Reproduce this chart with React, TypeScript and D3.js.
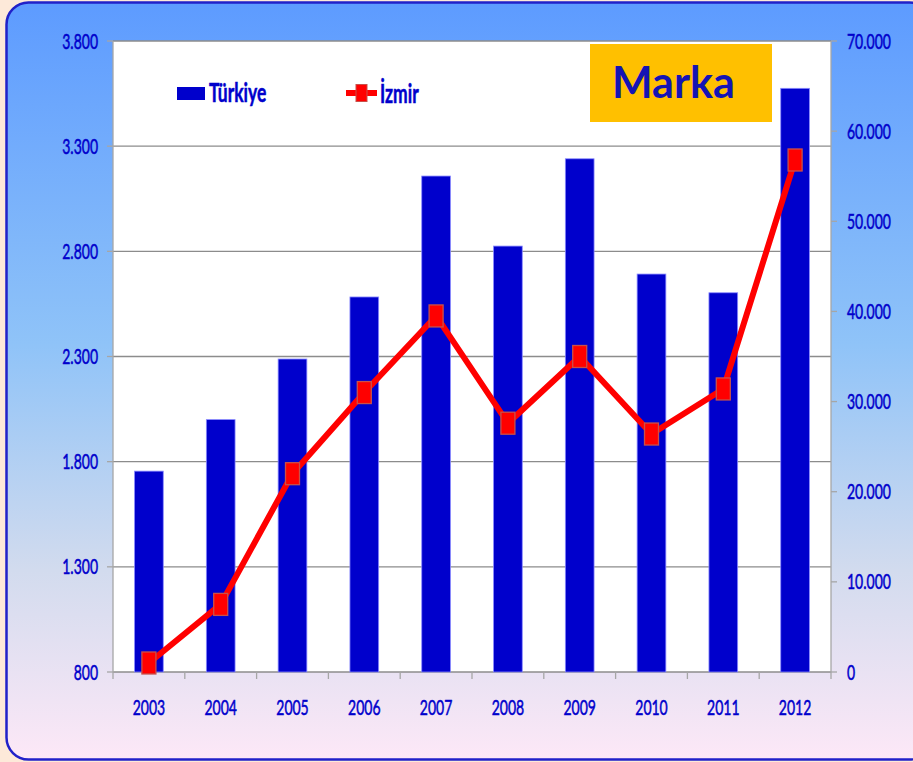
import React from "react";
import * as d3 from "d3";

const years = ["2003", "2004", "2005", "2006", "2007", "2008", "2009", "2010", "2011", "2012"];
const turkiye = [1755, 2000, 2288, 2583, 3158, 2825, 3240, 2692, 2603, 3575];
const izmir = [1000, 7500, 22000, 31000, 39500, 27600, 35000, 26400, 31400, 56800];
const leftTicks = [800, 1300, 1800, 2300, 2800, 3300, 3800];
const rightTicks = [0, 10000, 20000, 30000, 40000, 50000, 60000, 70000];
const seriesNames = ["Türkiye", "İzmir"];
const badge = "Marka";

const W = 913;
const H = 762;
const plot = { left: 113, right: 831, top: 41, bottom: 672 };
const SY = 1.5;
const FONT = "Lato, 'Open Sans', sans-serif";
const BLUE = "#0000cc";

const fmt = (v: number) => d3.format(",")(v).replace(/,/g, ".");

export default function App() {
  const x = d3
    .scaleBand<string>()
    .domain(years)
    .range([plot.left, plot.right])
    .paddingInner(0.6)
    .paddingOuter(0.3);
  const step = x.step();
  const yL = d3.scaleLinear().domain([800, 3800]).range([plot.bottom, plot.top]);
  const yR = d3.scaleLinear().domain([0, 70000]).range([plot.bottom, plot.top]);
  const cx = (d: string) => (x(d) as number) + x.bandwidth() / 2;

  const line = d3
    .line<number>()
    .x((_, i) => cx(years[i]))
    .y((d) => yR(d));

  const tickFs = 14;
  const capHalf = (0.7165 * tickFs) / 2;

  const sText = (
    tx: number,
    ty: number,
    content: string,
    anchor: "start" | "middle" | "end",
    fs: number,
    weight: number | string = 400,
    key?: string
  ) => (
    <text
      key={key}
      transform={`translate(${tx},${ty}) scale(1,${SY})`}
      textAnchor={anchor}
      fontSize={fs}
      fontWeight={weight}
      fontFamily={FONT}
      fill={BLUE}
      stroke={BLUE}
      strokeWidth={0.35}
    >
      {content}
    </text>
  );

  const mw = 14;
  const mh = 22;

  return (
    <svg
      width={W}
      height={H}
      style={{ position: "absolute", left: 0, top: 0 }}
      xmlns="http://www.w3.org/2000/svg"
    >
      <defs>
        <linearGradient id="bg" x1="0" y1="0" x2="0" y2="1">
          <stop offset="0" stopColor="#5d9bff" />
          <stop offset="0.45" stopColor="#8fc3f8" />
          <stop offset="0.75" stopColor="#d2dbee" />
          <stop offset="1" stopColor="#fde8f7" />
        </linearGradient>
      </defs>
      <rect x={0} y={0} width={W} height={H} fill="#fde9d9" />
      <rect
        x={6.5}
        y={2.5}
        width={925}
        height={757}
        rx={22}
        ry={22}
        fill="url(#bg)"
        stroke="#2121c9"
        strokeWidth={2.5}
      />

      {/* plot area */}
      <rect
        x={plot.left}
        y={plot.top}
        width={plot.right - plot.left}
        height={plot.bottom - plot.top}
        fill="#ffffff"
      />
      {leftTicks.map((t) => (
        <line
          key={"g" + t}
          x1={plot.left}
          x2={plot.right}
          y1={yL(t)}
          y2={yL(t)}
          stroke="#8c8c8c"
          strokeWidth={1.3}
        />
      ))}
      <line x1={plot.left} x2={plot.left} y1={plot.top} y2={plot.bottom} stroke="#a6a6a6" strokeWidth={1.3} />
      <line x1={plot.right} x2={plot.right} y1={plot.top} y2={plot.bottom} stroke="#a6a6a6" strokeWidth={1.3} />
      {leftTicks.map((t) => (
        <line key={"lt" + t} x1={plot.left - 6} x2={plot.left} y1={yL(t)} y2={yL(t)} stroke="#a6a6a6" strokeWidth={1.3} />
      ))}
      {rightTicks.map((t) => (
        <line key={"rt" + t} x1={plot.right} x2={plot.right + 6} y1={yR(t)} y2={yR(t)} stroke="#a6a6a6" strokeWidth={1.3} />
      ))}
      {d3.range(years.length + 1).map((i) => (
        <line
          key={"xt" + i}
          x1={plot.left + i * step}
          x2={plot.left + i * step}
          y1={plot.bottom}
          y2={plot.bottom + 7}
          stroke="#a6a6a6"
          strokeWidth={1.3}
        />
      ))}

      {/* bars */}
      {years.map((yr, i) => (
        <rect
          key={"b" + yr}
          x={x(yr)}
          y={yL(turkiye[i])}
          width={x.bandwidth()}
          height={plot.bottom - yL(turkiye[i])}
          fill={BLUE}
          stroke="#8a8aff"
          strokeWidth={0.8}
        />
      ))}

      {/* line */}
      <path d={line(izmir) || ""} fill="none" stroke="#ff0000" strokeWidth={6} strokeLinejoin="round" />
      {izmir.map((v, i) => (
        <rect
          key={"m" + i}
          x={cx(years[i]) - mw / 2}
          y={yR(v) - mh / 2}
          width={mw}
          height={mh}
          fill="#ff0000"
          stroke="#c8504a"
          strokeWidth={1.3}
        />
      ))}

      {/* axis labels */}
      {leftTicks.map((t) => sText(98, yL(t) + capHalf * SY, fmt(t), "end", tickFs, 400, "ll" + t))}
      {rightTicks.map((t) => sText(847, yR(t) + capHalf * SY, fmt(t), "start", tickFs, 400, "rl" + t))}
      {years.map((yr) => sText(cx(yr), 714.5, yr, "middle", tickFs, 400, "xl" + yr))}

      {/* legend */}
      <rect x={177} y={87} width={28} height={13} fill={BLUE} />
      {sText(209, 101.5, seriesNames[0], "start", 17.5, 700, "lg0")}
      <line x1={346} x2={377} y1={93} y2={93} stroke="#ff0000" strokeWidth={6} />
      <rect x={356} y={84.5} width={11} height={17} fill="#ff0000" stroke="#c8504a" strokeWidth={1} />
      {sText(380, 102.5, seriesNames[1], "start", 17.5, 700, "lg1")}

      {/* badge */}
      <rect x={590} y={44} width={182} height={78} fill="#ffc000" />
      <text x={612} y={98} fontSize={43} fontWeight={700} fontFamily={FONT} fill="#1414b4">
        {badge}
      </text>
    </svg>
  );
}
